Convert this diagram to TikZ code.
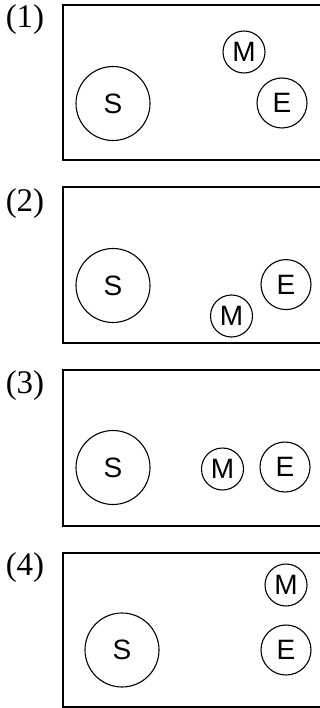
\documentclass[tikz,border=0pt]{standalone}
\usepackage{fontspec}
\setmainfont{Liberation Serif}
\newfontfamily\arialfont{Liberation Sans}
\begin{document}
\begin{tikzpicture}[x=1pt,y=-1pt,
  panel/.style={draw,line width=1.4pt},
  body/.style={circle,draw,line width=1.1pt,inner sep=0pt,font=\arialfont\fontsize{28}{28}\selectfont},
  sun/.style={body,minimum size=74pt},
  earth/.style={body,minimum size=50pt},
  moon/.style={body,minimum size=42pt},
  tag/.style={font=\fontsize{33}{33}\selectfont,inner sep=0pt}]
\useasboundingbox (0,0) rectangle (320,708);
\clip (0,0) rectangle (320,708);
% panel 1
\draw[panel] (63,5) rectangle (330,160);
\node[tag] (l1) at (25,20) {(1)};
\node[sun] (s1) at (113,103.5) {S};
\node[moon] (m1) at (244,52) {M};
\node[earth] (e1) at (282,103) {E};
% panel 2
\draw[panel] (63,187) rectangle (330,343);
\node[tag] (l2) at (25,204) {(2)};
\node[sun] (s2) at (113,285.5) {S};
\node[moon] (m2) at (231.5,316) {M};
\node[earth] (e2) at (286,284.6) {E};
% panel 3
\draw[panel] (63,370) rectangle (330,526);
\node[tag] (l3) at (25,386) {(3)};
\node[sun] (s3) at (113,467.5) {S};
\node[moon] (m3) at (222.5,469) {M};
\node[earth] (e3) at (285,467) {E};
% panel 4
\draw[panel] (63,553) rectangle (330,707);
\node[tag] (l4) at (25,568) {(4)};
\node[sun] (s4) at (122,650) {S};
\node[moon] (m4) at (286,585) {M};
\node[earth] (e4) at (286,650) {E};
\end{tikzpicture}
\end{document}
